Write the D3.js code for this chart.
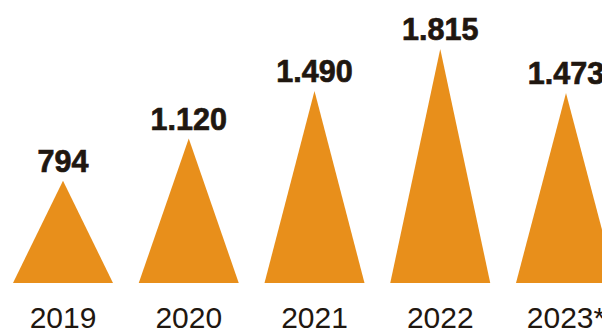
<!DOCTYPE html>
<html>
<head>
<meta charset="utf-8">
<script src="https://cdn.jsdelivr.net/npm/d3@7"></script>
<style>
  html, body { margin: 0; padding: 0; background: #fff; overflow: hidden; }
  text { font-family: "Liberation Sans", Arial, Helvetica, sans-serif; }
</style>
</head>
<body>
<div id="chart"></div>
<script>
const years = ["2019", "2020", "2021", "2022", "2023*"];
const values = [794, 1120, 1490, 1815, 1473];

const width = 602;
const height = 333;
const baseY = 283;
const halfBase = 50;

const de = d3.formatLocale({ decimal: ",", thousands: ".", grouping: [3], currency: ["", " €"] });
const fmt = de.format(",");

const svg = d3.select("#chart")
    .append("svg")
    .attr("width", width)
    .attr("height", height);

const x = d3.scalePoint()
    .domain(years)
    .range([63, 566]);

const y = d3.scaleLinear()
    .domain([0, 1815])
    .range([baseY, 49]);

const data = years.map((yr, i) => ({ year: yr, value: values[i] }));

svg.selectAll("polygon")
    .data(data)
    .enter()
    .append("polygon")
    .attr("points", d => {
        const cx = x(d.year);
        return `${cx - halfBase},${y(0)} ${cx},${y(d.value)} ${cx + halfBase},${y(0)}`;
    })
    .attr("fill", "#E88F1B");

// value labels, a bit heavier than plain bold
svg.selectAll("text.value")
    .data(data)
    .enter()
    .append("text")
    .attr("class", "value")
    .attr("x", d => x(d.year))
    .attr("y", d => y(d.value) - 9)
    .attr("text-anchor", "middle")
    .attr("font-size", 30.5)
    .attr("font-weight", "bold")
    .attr("fill", "#1f1710")
    .attr("stroke", "#1f1710")
    .attr("stroke-width", 0.7)
    .text(d => fmt(d.value));

svg.selectAll("text.year")
    .data(data)
    .enter()
    .append("text")
    .attr("class", "year")
    .attr("x", d => x(d.year))
    .attr("y", 328)
    .attr("text-anchor", "middle")
    .attr("font-size", 30)
    .attr("fill", "#1f1710")
    .text(d => d.year);
</script>
</body>
</html>
